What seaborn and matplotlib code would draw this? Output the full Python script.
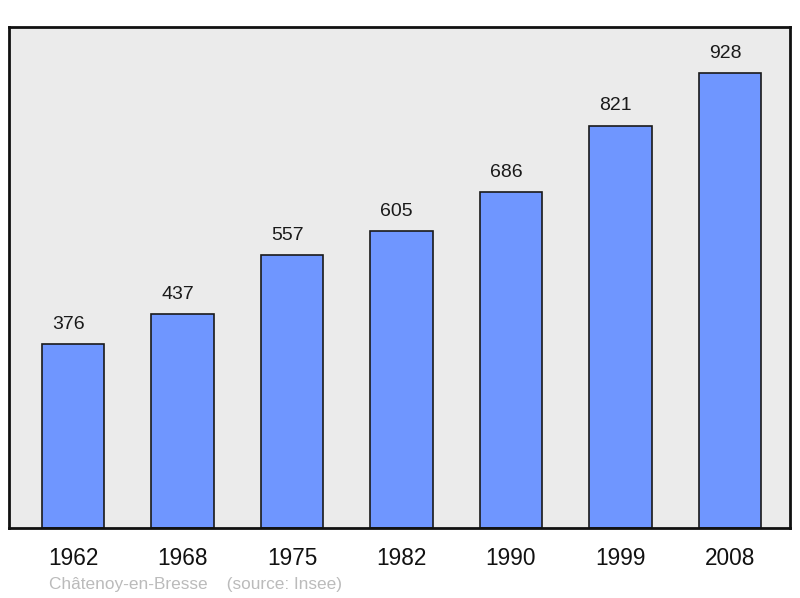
import pandas as pd
import matplotlib.pyplot as plt
import seaborn as sns

years = ["1962", "1968", "1975", "1982", "1990", "1999", "2008"]
population = [376, 437, 557, 605, 686, 821, 928]

df = pd.DataFrame({"year": years, "population": population})

sns.set_theme(style="white")
plt.rcParams['font.family'] = ['Liberation Sans', 'DejaVu Sans']

fig = plt.figure(figsize=(8, 5.98), dpi=100)
ax = fig.add_axes([9 / 800, 1 - 528 / 598, 781 / 800, 501 / 598])
ax.set_facecolor("#ebebeb")

sns.barplot(x="year", y="population", data=df, color="#6f96ff", saturation=1,
            width=0.57, edgecolor="#1a1a1a", linewidth=1.2, ax=ax)

# value labels above each bar (slightly left of centre, like the original)
for p in ax.patches:
    ax.annotate(f"{int(p.get_height())}", (p.get_x() + p.get_width() / 2, p.get_height()),
                xytext=(-3.5, 8), textcoords="offset points", ha="center", va="bottom",
                fontsize=14, color="#1a1a1a")

ax.set_xlim(-0.585, 6.55)
ax.set_ylim(0, 1022)
ax.set_xlabel("")
ax.set_ylabel("")
ax.set_yticks([])
ax.tick_params(axis="x", length=0, pad=14, labelsize=16.3, colors="#111111")

for s in ax.spines.values():
    s.set_visible(True)
    s.set_color("#111111")
    s.set_linewidth(2)

fig.text(49 / 800, 1 - 585 / 598, "Châtenoy-en-Bresse    (source: Insee)",
         fontsize=12.4, color="#bbbbbb", va="center", ha="left")

fig.savefig("out.png", dpi=100)
